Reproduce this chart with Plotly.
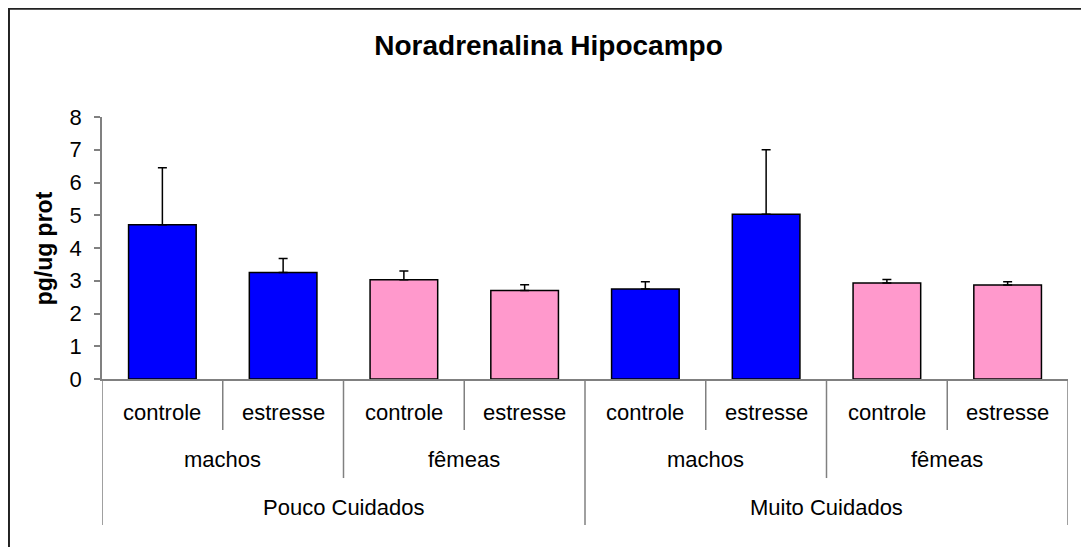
import plotly.graph_objects as go

# Data
cuidado = ["Pouco Cuidados", "Muito Cuidados"]
sexo = ["machos", "fêmeas"]
tratamento = ["controle", "estresse"]

media = [4.71, 3.25, 3.03, 2.70, 2.75, 5.03, 2.93, 2.87]
erro = [1.74, 0.43, 0.27, 0.18, 0.22, 1.97, 0.11, 0.10]

cor_sexo = {"machos": "#0000FF", "fêmeas": "#FF99CC"}

# build the three-level categories
lvl1, lvl2, lvl3 = [], [], []
for c in cuidado:
    for s in sexo:
        for t in tratamento:
            lvl1.append(t)
            lvl2.append(s)
            lvl3.append(c)

xpos = list(range(len(media)))
cores = [cor_sexo[s] for s in lvl2]

fig = go.Figure(
    go.Bar(
        x=xpos,
        y=media,
        marker=dict(color=cores, line=dict(color="black", width=1.5)),
        error_y=dict(type="data", array=erro, arrayminus=[0] * len(erro),
                     symmetric=False, color="black", thickness=1.5, width=4.5),
        showlegend=False,
    )
)

FONT = "Liberation Sans, Arial, sans-serif"
font_lbl = dict(family=FONT, size=22, color="black")
grey = "#808080"

# label rows and divider depths (paper units below the x axis)
rows = [(lvl1, -0.126, -0.195), (lvl2, -0.309, -0.378), (lvl3, -0.492, -0.557)]

annotations = []
shapes = []
n = len(xpos)
for k, (labels, ylab, ydiv) in enumerate(rows):
    size = 2 ** k  # bars per group at this level
    for g in range(0, n, size):
        mid = (xpos[g] + xpos[g + size - 1]) / 2
        annotations.append(dict(x=mid, y=ylab, xref="x", yref="paper", text=labels[g],
                                showarrow=False, font=font_lbl, xanchor="center", yanchor="middle"))

# dividers at each boundary, as deep as the highest level that changes there
for b in range(n + 1):
    if b == 0 or b == n or lvl3[b] != lvl3[b - 1]:
        depth = rows[2][2]
    elif lvl2[b] != lvl2[b - 1]:
        depth = rows[1][2]
    else:
        depth = rows[0][2]
    shapes.append(dict(type="line", xref="x", yref="paper", x0=b - 0.5, x1=b - 0.5,
                       y0=0, y1=depth, line=dict(color=grey, width=1.5)))

# outer chart border (only top & left visible in the crop)
shapes.append(dict(type="rect", xref="paper", yref="paper", x0=-0.0963, x1=1.2,
                   y0=-1.0, y1=1.413, line=dict(color="#222222", width=2), layer="below"))

annotations.append(dict(x=-0.0752, y=0.5, xref="paper", yref="paper", text="<b>pg/ug prot</b>",
                        textangle=-90, showarrow=False,
                        font=dict(family=FONT, size=23, color="black")))

fig.update_layout(
    width=1081, height=539,
    margin=dict(l=94, r=21, t=109, b=168),
    paper_bgcolor="white", plot_bgcolor="white",
    bargap=0.44,
    title=dict(text="<b>Noradrenalina Hipocampo</b>", x=0.5, xanchor="center",
               y=1 - 37 / 539, yanchor="middle", yref="container",
               font=dict(family=FONT, size=28, color="black")),
    xaxis=dict(range=[-0.5, n - 0.5], showticklabels=False, ticks="", showgrid=False,
               zeroline=False, showline=True, linecolor=grey, linewidth=1.5),
    yaxis=dict(range=[0, 8], dtick=1, ticks="outside", ticklen=6, tickcolor=grey, tickwidth=1.5,
               ticklabelstandoff=8,
               showgrid=False, zeroline=False, showline=True, linecolor=grey, linewidth=1.5,
               tickfont=dict(family=FONT, size=22, color="black")),
    annotations=annotations,
    shapes=shapes,
)

fig.write_html("out.html")
